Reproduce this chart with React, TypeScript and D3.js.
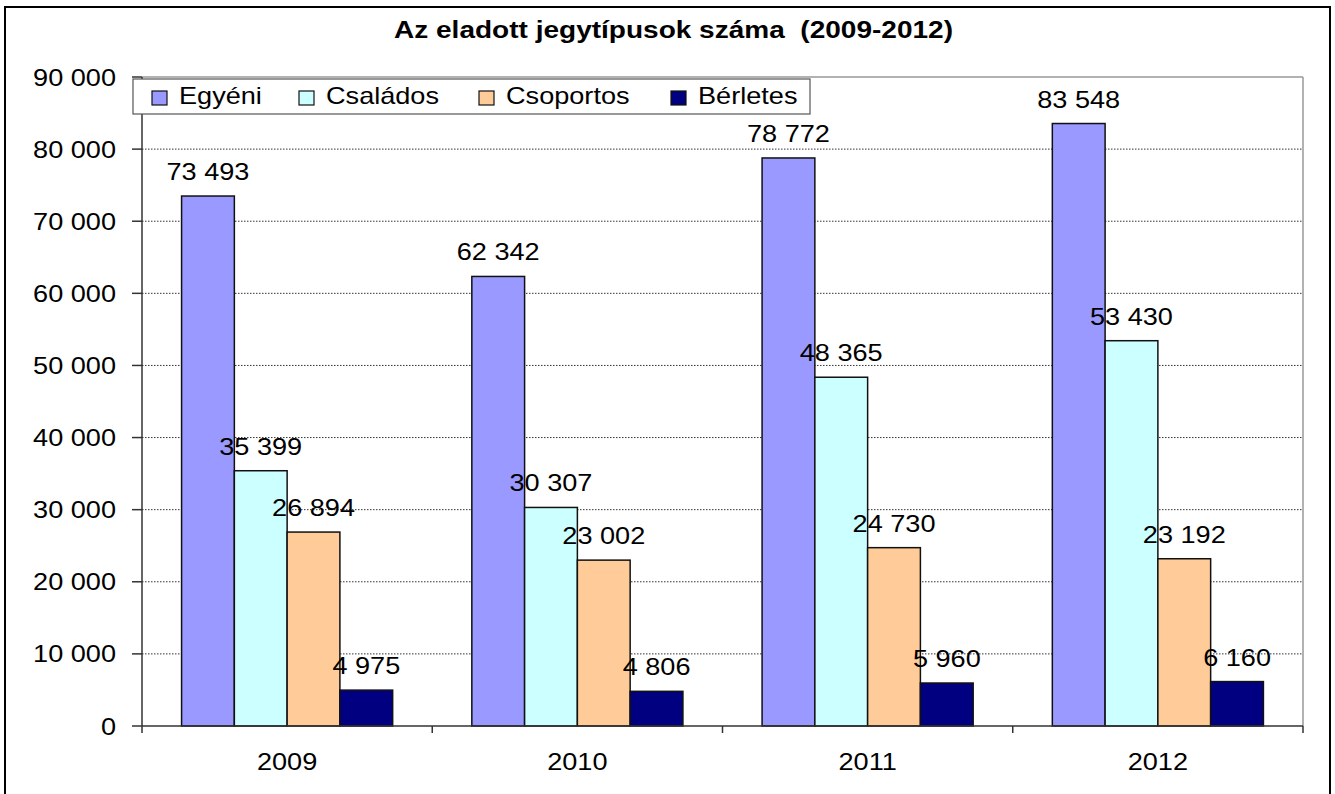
import React from "react";
import * as d3 from "d3";

const years = ["2009", "2010", "2011", "2012"];
const seriesNames = ["Egyéni", "Családos", "Csoportos", "Bérletes"];
const egyeni = [73493, 62342, 78772, 83548];
const csalados = [35399, 30307, 48365, 53430];
const csoportos = [26894, 23002, 24730, 23192];
const berletes = [4975, 4806, 5960, 6160];
const seriesColors = ["#9999FF", "#CCFFFF", "#FFCC99", "#000080"];
const yTicks = [0, 10000, 20000, 30000, 40000, 50000, 60000, 70000, 80000, 90000];
const title = "Az eladott jegytípusok száma  (2009-2012)";

const seriesValues = [egyeni, csalados, csoportos, berletes];

const W = 1335;
const H = 794;
const plot = { left: 142, right: 1303, top: 77, bottom: 726 };
const FONT = "'Liberation Sans', Arial, sans-serif";
const SX = 1.13;

const fmt = (v: number) => d3.format(",")(v).replace(/,/g, " ");

function T(props: { x: number; y: number; anchor?: string; size?: number; children: any; weight?: string }) {
  const { x, y, anchor = "start", size = 24, children, weight = "normal" } = props;
  return (
    <text
      transform={`translate(${x},${y}) scale(${SX},1)`}
      textAnchor={anchor as any}
      fontSize={size}
      fontFamily={FONT}
      fontWeight={weight}
      fill="#000"
    >
      {children}
    </text>
  );
}

export default function App() {
  const x0 = d3.scaleBand<string>().domain(years).range([plot.left, plot.right]).paddingInner(0).paddingOuter(0);
  const x1 = d3
    .scaleBand<string>()
    .domain(seriesNames)
    .range([0, x0.bandwidth()])
    .paddingInner(0)
    .paddingOuter(0.75);
  const y = d3.scaleLinear().domain([0, 90000]).range([plot.bottom, plot.top]);

  const legendSwatchX = [152, 299, 479, 671];

  return (
    <svg
      width={W}
      height={H}
      style={{ position: "absolute", left: 0, top: 0, background: "#fff" }}
    >
      <rect x={0} y={0} width={W} height={H} fill="#fff" />
      {/* outer frame */}
      <rect x={5} y={7} width={1325} height={800} fill="none" stroke="#000" strokeWidth={2} />

      {/* title */}
      <text
        x={673.5}
        y={38}
        textAnchor="middle"
        fontSize={23}
        fontWeight="bold"
        fontFamily={FONT}
        textLength={559}
        lengthAdjust="spacingAndGlyphs"
        style={{ whiteSpace: "pre" }}
      >
        {title}
      </text>

      {/* plot area border (top/right) */}
      <line x1={plot.left} x2={plot.right} y1={plot.top} y2={plot.top} stroke="#999" strokeWidth={1.5} />
      <line x1={plot.right} x2={plot.right} y1={plot.top} y2={plot.bottom} stroke="#999" strokeWidth={1.5} />

      {/* gridlines */}
      {yTicks
        .filter((t) => t > 0 && t < 90000)
        .map((t) => (
          <line
            key={"g" + t}
            x1={plot.left}
            x2={plot.right}
            y1={y(t)}
            y2={y(t)}
            stroke="#333"
            strokeWidth={1}
            strokeDasharray="1.5,1.5"
          />
        ))}

      {/* y axis */}
      <line x1={plot.left} x2={plot.left} y1={plot.top} y2={plot.bottom} stroke="#333" strokeWidth={1.5} />
      {yTicks.map((t) => (
        <g key={"yt" + t}>
          <line x1={plot.left - 10} x2={plot.left} y1={y(t)} y2={y(t)} stroke="#333" strokeWidth={1.5} />
          <T x={116} y={y(t) + 8.5} anchor="end">
            {fmt(t)}
          </T>
        </g>
      ))}

      {/* bars */}
      {years.map((yr, i) => (
        <g key={"c" + yr}>
          {seriesNames.map((s, j) => {
            const v = seriesValues[j][i];
            const bx = (x0(yr) as number) + (x1(s) as number);
            return (
              <rect
                key={s}
                x={bx}
                y={y(v)}
                width={x1.bandwidth()}
                height={plot.bottom - y(v)}
                fill={seriesColors[j]}
                stroke="#111"
                strokeWidth={1.5}
              />
            );
          })}
        </g>
      ))}

      {/* x axis */}
      <line x1={plot.left} x2={plot.right} y1={plot.bottom} y2={plot.bottom} stroke="#333" strokeWidth={1.5} />
      {[...years.map((yr) => x0(yr) as number), plot.right].map((xx, k) => (
        <line key={"xt" + k} x1={xx} x2={xx} y1={plot.bottom} y2={plot.bottom + 7} stroke="#333" strokeWidth={1.5} />
      ))}
      {years.map((yr) => (
        <T key={"xl" + yr} x={(x0(yr) as number) + x0.bandwidth() / 2} y={770} anchor="middle">
          {yr}
        </T>
      ))}

      {/* value labels */}
      {years.map((yr, i) =>
        seriesNames.map((s, j) => {
          const v = seriesValues[j][i];
          const cx = (x0(yr) as number) + (x1(s) as number) + x1.bandwidth() / 2;
          return (
            <T key={"vl" + yr + s} x={cx} y={y(v) - 16} anchor="middle">
              {fmt(v)}
            </T>
          );
        })
      )}

      {/* legend */}
      <rect x={133} y={79} width={677} height={35} fill="#fff" stroke="#555" strokeWidth={1.2} />
      {seriesNames.map((s, j) => (
        <g key={"lg" + s}>
          <rect
            x={legendSwatchX[j]}
            y={91}
            width={15}
            height={14}
            fill={seriesColors[j]}
            stroke="#111"
            strokeWidth={1.2}
          />
          <T x={legendSwatchX[j] + 27} y={104}>
            {s}
          </T>
        </g>
      ))}
    </svg>
  );
}
